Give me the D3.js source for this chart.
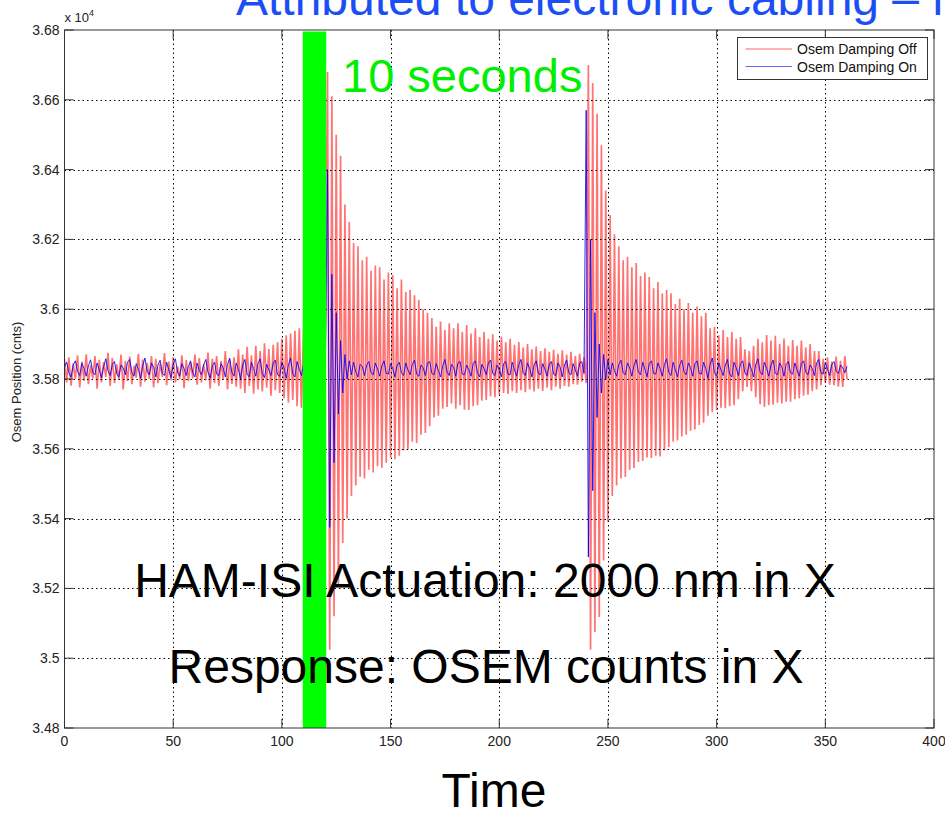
<!DOCTYPE html>
<html>
<head>
<meta charset="utf-8">
<script src="https://cdn.jsdelivr.net/npm/d3@7"></script>
<style>
  body { margin: 0; background: #fff; }
  svg { display: block; font-family: "Liberation Sans", Arial, sans-serif; }
</style>
</head>
<body>
<svg id="chart" width="945" height="814"></svg>
<script>
// one sample per second, counts
const sampleStep = 1;

const dampingOff = [
  35858, 35790, 35862, 35781, 35845, 35800, 35868, 35776, 35850, 35795,
  35871, 35785, 35840, 35802, 35866, 35772, 35855, 35790, 35848, 35806,
  35875, 35780, 35860, 35788, 35842, 35798, 35870, 35770, 35852, 35794,
  35864, 35785, 35838, 35804, 35872, 35778, 35856, 35792, 35846, 35800,
  35866, 35776, 35858, 35788, 35844, 35806, 35874, 35782, 35850, 35796,
  35862, 35790, 35836, 35800, 35868, 35774, 35854, 35794, 35848, 35802,
  35870, 35784, 35860, 35790, 35842, 35796, 35876, 35772, 35858, 35788,
  35866, 35780, 35852, 35798, 35880, 35770, 35856, 35786, 35862, 35778,
  35885, 35772, 35870, 35760, 35892, 35780, 35868, 35758, 35895, 35770,
  35880, 35764, 35902, 35775, 35886, 35752, 35898, 35768, 35905, 35760,
  35915, 35745, 35925, 35732, 35930, 35740, 35938, 35722, 35945, 35718, 35948,
  35715, 35955, 35708, 35960, 35700, 35962, 35705, 35958, 35710, 35950,
  36680, 35024, 36610, 35120, 36500, 35210, 36440, 35330, 36300, 35400,
  36250, 35465, 36190, 35495, 36180, 35520, 36140, 35515, 36150, 35540,
  36110, 35532, 36125, 35550, 36120, 35545, 36085, 35560, 36105, 35575,
  36098, 35570, 36060, 35580, 36085, 35595, 36050, 35598, 36055, 35620,
  36040, 35617, 36026, 35640, 36000, 35645, 35990, 35665, 35975, 35690,
  35950, 35695, 35965, 35715, 35940, 35720, 35960, 35730, 35945, 35715,
  35960, 35725, 35935, 35712, 35955, 35711, 35930, 35722, 35945, 35725,
  35920, 35738, 35935, 35740, 35915, 35750, 35928, 35748, 35910, 35755,
  35922, 35760, 35905, 35757, 35915, 35765, 35898, 35760, 35906, 35768,
  35890, 35762, 35900, 35770, 35885, 35764, 35893, 35772, 35880, 35766,
  35888, 35775, 35878, 35768, 35884, 35778, 35872, 35772, 35882, 35780,
  35870, 35778, 35878, 35785, 35866, 35784, 35872, 35792, 35862, 35788,
  36700, 35024, 36648, 35075, 36560, 35118, 36470, 35280, 36340, 35390,
  36270, 35465, 36215, 35495, 36180, 35515, 36140, 35519, 36150, 35540,
  36120, 35545, 36132, 35562, 36095, 35565, 36105, 35575, 36092, 35574,
  36060, 35580, 36078, 35578, 36045, 35595, 36055, 35605, 36046, 35620,
  36015, 35624, 36030, 35635, 36000, 35640, 36018, 35652, 35990, 35655,
  36008, 35668, 35980, 35675, 35990, 35695, 35945, 35705, 35950, 35711,
  35925, 35718, 35940, 35716, 35920, 35722, 35935, 35725, 35915, 35742,
  35920, 35765, 35885, 35777, 35880, 35765, 35895, 35748, 35915, 35728,
  35905, 35720, 35926, 35725, 35910, 35726, 35924, 35732, 35900, 35730,
  35916, 35735, 35895, 35735, 35912, 35742, 35895, 35745, 35910, 35752,
  35890, 35755, 35900, 35765, 35880, 35770, 35880, 35782, 35858, 35789,
  35862, 35784, 35850, 35782, 35864, 35778, 35852, 35777, 35866, 35800
];

const dampingOn = [
  35835, 35848, 35818, 35805, 35840, 35852, 35822, 35810, 35845, 35830,
  35808, 35838, 35855, 35820, 35812, 35846, 35826, 35804, 35836, 35858,
  35824, 35810, 35842, 35850, 35816, 35806, 35840, 35832, 35812, 35848,
  35856, 35818, 35808, 35844, 35828, 35802, 35838, 35860, 35822, 35812,
  35846, 35834, 35806, 35840, 35854, 35816, 35810, 35848, 35826, 35804,
  35842, 35858, 35820, 35808, 35844, 35830, 35810, 35836, 35852, 35818,
  35806, 35846, 35824, 35812, 35840, 35856, 35820, 35802, 35838, 35848,
  35814, 35810, 35844, 35832, 35806, 35842, 35860, 35818, 35808, 35846,
  35828, 35800, 35840, 35856, 35814, 35806, 35848, 35830, 35808, 35844,
  35858, 35816, 35804, 35842, 35826, 35810, 35846, 35854, 35812, 35808,
  35848, 35832, 35802, 35840, 35860, 35816, 35806, 35850, 35828, 35810,
  35844, 35852, 35814, 35808, 35846, 35830, 35806, 35842, 35856, 35818,
  35830,
  36400, 35375, 36100, 35560, 35990, 35700, 35910, 35760, 35870, 35800,
  35852, 35812, 35848, 35820, 35806, 35842, 35836, 35810, 35840, 35850,
  35818, 35812, 35846, 35828, 35808, 35838, 35852, 35816, 35814, 35844,
  35830, 35806, 35840, 35848, 35818, 35810, 35846, 35826, 35812, 35842,
  35854, 35814, 35808, 35840, 35832, 35810, 35846, 35850, 35816, 35812,
  35844, 35824, 35806, 35838, 35856, 35820, 35810, 35842, 35834, 35808,
  35846, 35850, 35814, 35812, 35840, 35826, 35808, 35844, 35852, 35818,
  35806, 35842, 35830, 35812, 35846, 35854, 35816, 35810, 35840, 35828,
  35806, 35844, 35850, 35814, 35812, 35848, 35826, 35808, 35842, 35856,
  35818, 35810, 35846, 35830, 35806, 35840, 35852, 35816, 35812, 35844,
  35828, 35808, 35842, 35850, 35814, 35810, 35846, 35834, 35806, 35840,
  35854, 35818, 35812, 35844, 35826, 35808, 35846, 35850, 35816, 36570,
  35290, 36200, 35480, 35990, 35690, 35900, 35760, 35870, 35800, 35856, 35812,
  35846, 35824, 35808, 35842, 35854, 35818, 35812, 35846, 35832,
  35808, 35840, 35856, 35820, 35812, 35848, 35828, 35806, 35844, 35852,
  35816, 35814, 35846, 35830, 35808, 35842, 35858, 35818, 35810, 35848,
  35826, 35806, 35840, 35854, 35820, 35812, 35846, 35832, 35808, 35844,
  35852, 35816, 35814, 35848, 35830, 35802, 35842, 35860, 35818, 35808,
  35846, 35826, 35810, 35840, 35856, 35814, 35806, 35848, 35832, 35810,
  35844, 35852, 35818, 35810, 35846, 35828, 35806, 35842, 35858, 35820,
  35812, 35848, 35830, 35808, 35840, 35854, 35816, 35812, 35846, 35834,
  35808, 35842, 35850, 35818, 35814, 35846, 35826, 35808, 35844, 35852,
  35820, 35812, 35840, 35830, 35810, 35846, 35856, 35818, 35814, 35848,
  35828, 35810, 35842, 35850, 35822, 35816, 35840, 35832, 35818, 35836
];

const xTicks = [0, 50, 100, 150, 200, 250, 300, 350, 400];
const yTicks = [34800, 35000, 35200, 35400, 35600, 35800, 36000, 36200, 36400, 36600, 36800];
const seriesNames = ["Osem Damping Off", "Osem Damping On"];
const highlightSpan = [109.6, 120.4];

const svg = d3.select("#chart");
const box = { l: 64.5, r: 934, t: 30, b: 728 };

const x = d3.scaleLinear().domain([0, 400]).range([box.l, box.r]);
const y = d3.scaleLinear().domain([34800, 36800]).range([box.b, box.t]);

svg.append("defs").append("clipPath").attr("id", "plotClip")
  .append("rect").attr("x", box.l).attr("y", box.t)
  .attr("width", box.r - box.l).attr("height", box.b - box.t);

const line = d3.line()
  .x((d, i) => x(i * sampleStep))
  .y((d) => y(d));

const plot = svg.append("g").attr("clip-path", "url(#plotClip)");

// wide translucent stroke gives the pink, densely filled look of the trace
plot.append("path")
  .datum(dampingOff)
  .attr("d", line)
  .attr("fill", "none")
  .attr("stroke", "#ff0000")
  .attr("stroke-opacity", 0.55)
  .attr("stroke-width", 1.7);

plot.append("path")
  .datum(dampingOn)
  .attr("d", line)
  .attr("fill", "none")
  .attr("stroke", "#0000ff")
  .attr("stroke-opacity", 0.85)
  .attr("stroke-width", 1);

// dotted grid on top of the traces
const grid = svg.append("g").attr("stroke", "#000").attr("stroke-width", 1)
  .attr("stroke-dasharray", "1.5,3");
grid.selectAll(".gx")
  .data(xTicks.slice(1, -1))
  .enter().append("line")
  .attr("x1", (d) => Math.round(x(d)) + 0.5).attr("x2", (d) => Math.round(x(d)) + 0.5)
  .attr("y1", box.t).attr("y2", box.b);
grid.selectAll(".gy")
  .data(yTicks.slice(1, -1))
  .enter().append("line")
  .attr("y1", (d) => Math.round(y(d)) + 0.5).attr("y2", (d) => Math.round(y(d)) + 0.5)
  .attr("x1", box.l).attr("x2", box.r);

// green 10 s band
svg.append("rect")
  .attr("x", x(highlightSpan[0]))
  .attr("y", box.t + 1.5)
  .attr("width", x(highlightSpan[1]) - x(highlightSpan[0]))
  .attr("height", box.b - box.t - 1.5)
  .attr("fill", "#00ff00");

// axes frame and inner ticks
const frame = svg.append("g").attr("stroke", "#333").attr("stroke-width", 1).attr("fill", "none");
frame.append("rect").attr("x", box.l).attr("y", box.t)
  .attr("width", box.r - box.l).attr("height", box.b - box.t);
const tickLen = 9;
xTicks.forEach((d) => {
  frame.append("line").attr("x1", x(d)).attr("x2", x(d)).attr("y1", box.b).attr("y2", box.b - tickLen);
  frame.append("line").attr("x1", x(d)).attr("x2", x(d)).attr("y1", box.t).attr("y2", box.t + tickLen);
});
yTicks.forEach((d) => {
  frame.append("line").attr("y1", y(d)).attr("y2", y(d)).attr("x1", box.l).attr("x2", box.l + tickLen);
  frame.append("line").attr("y1", y(d)).attr("y2", y(d)).attr("x1", box.r).attr("x2", box.r - tickLen);
});

svg.append("g").selectAll("text")
  .data(xTicks)
  .enter().append("text")
  .attr("x", (d) => x(d))
  .attr("y", box.b + 18)
  .attr("text-anchor", "middle")
  .attr("font-size", 14)
  .attr("fill", "#222")
  .text((d) => d);

svg.append("g").selectAll("text")
  .data(yTicks)
  .enter().append("text")
  .attr("x", box.l - 5)
  .attr("y", (d) => y(d))
  .attr("dy", "0.35em")
  .attr("text-anchor", "end")
  .attr("font-size", 14)
  .attr("fill", "#222")
  .text((d) => String(+(d / 1e4).toFixed(2)));

const expo = svg.append("text").attr("x", box.l).attr("y", 22)
  .attr("font-size", 13).attr("fill", "#222");
expo.append("tspan").text("x 10");
expo.append("tspan").attr("dy", -6).attr("font-size", 9).text("4");

svg.append("text")
  .attr("transform", "translate(21,382) rotate(-90)")
  .attr("text-anchor", "middle")
  .attr("font-size", 13)
  .attr("fill", "#222")
  .text("Osem Position (cnts)");

// legend
const legend = svg.append("g");
legend.append("rect")
  .attr("x", 737.5).attr("y", 37.5).attr("width", 190).attr("height", 42)
  .attr("fill", "#fff").attr("stroke", "#333");
[["#ff0000", 49], ["#0000ff", 66.5]].forEach(([c, ly], i) => {
  legend.append("line").attr("x1", 745.5).attr("x2", 792).attr("y1", ly).attr("y2", ly)
    .attr("stroke", c).attr("stroke-opacity", 0.6).attr("stroke-width", 1.2);
  legend.append("text").attr("x", 797).attr("y", ly).attr("dy", "0.36em")
    .attr("font-size", 14).attr("fill", "#111").text(seriesNames[i]);
});

// slide annotations
svg.append("text").attr("x", 236).attr("y", 15)
  .attr("font-size", 48).attr("fill", "#1d4ef5")
  .text("Attributed to electronic cabling \u2013 in");

svg.append("text").attr("x", 342).attr("y", 92)
  .attr("font-size", 47).attr("fill", "#00ee00")
  .text("10 seconds");

svg.append("text").attr("x", 485).attr("y", 597)
  .attr("text-anchor", "middle").attr("font-size", 48).attr("fill", "#000")
  .text("HAM-ISI Actuation: 2000 nm in X");

svg.append("text").attr("x", 486).attr("y", 683)
  .attr("text-anchor", "middle").attr("font-size", 48).attr("fill", "#000")
  .text("Response: OSEM counts in X");

svg.append("text").attr("x", 494).attr("y", 807)
  .attr("text-anchor", "middle").attr("font-size", 48).attr("fill", "#000")
  .text("Time");
</script>
</body>
</html>
